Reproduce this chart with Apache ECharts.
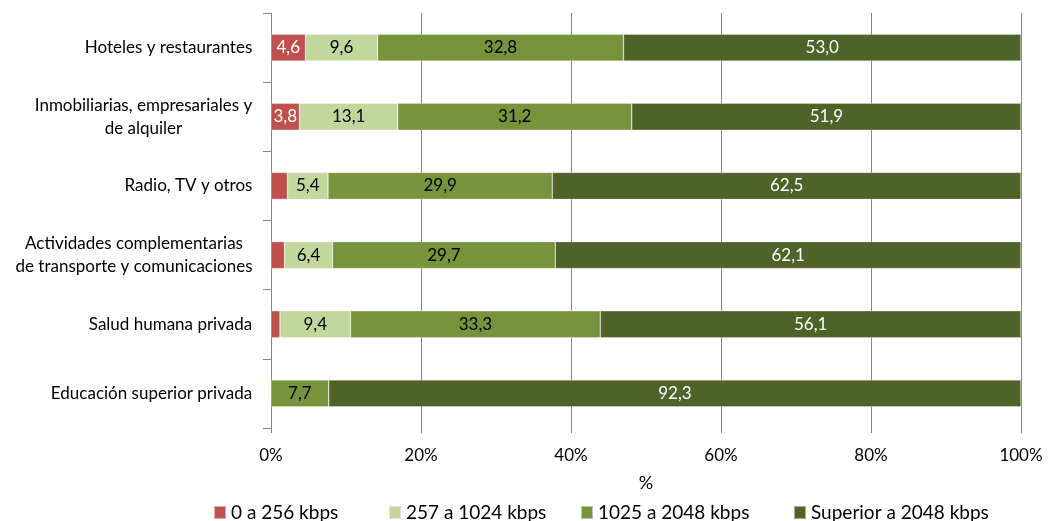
<!DOCTYPE html>
<html>
<head>
<meta charset="utf-8">
<script src="https://cdn.jsdelivr.net/npm/echarts@6/dist/echarts.min.js"></script>
<style>html,body{margin:0;padding:0;background:#fff;}#c{width:1050px;height:521px;}</style>
</head>
<body>
<div id="c"></div>
<script>
var categories = [
  'Hoteles y restaurantes',
  'Inmobiliarias, empresariales y\nde alquiler',
  'Radio, TV y otros',
  'Actividades complementarias\nde transporte y comunicaciones',
  'Salud humana privada',
  'Educación superior privada'
];
var seriesNames = ['0 a 256 kbps', '257 a 1024 kbps', '1025 a 2048 kbps', 'Superior a 2048 kbps'];
var s0 = [4.6, 3.8, 2.2, 1.8, 1.2, 0];
var s1 = [9.6, 13.1, 5.4, 6.4, 9.4, 0];
var s2 = [32.8, 31.2, 29.9, 29.7, 33.3, 7.7];
var s3 = [53.0, 51.9, 62.5, 62.1, 56.1, 92.3];
var xTicks = [0, 20, 40, 60, 80, 100];

var colors = ['#C0504D', '#C3D69B', '#77933C', '#4F6228'];
var labelColors = ['#ffffff', '#000000', '#000000', '#ffffff'];
var FONT = 'Lato, Carlito, Calibri, sans-serif';
var CAT_FS = 17;

// measure widest line per label to center lines
var ctx = document.createElement('canvas').getContext('2d');
ctx.font = CAT_FS + 'px ' + FONT;
var rich = {};
categories.forEach(function (c, i) {
  var w = 0;
  c.split('\n').forEach(function (l) { w = Math.max(w, ctx.measureText(l).width); });
  rich['c' + i] = { width: Math.ceil(w) + 1, align: 'center', fontSize: CAT_FS, fontFamily: FONT, color: '#000', lineHeight: 23 };
});

var chart = echarts.init(document.getElementById('c'));
var allData = [s0, s1, s2, s3];
var series = allData.map(function (d, k) {
  return {
    name: seriesNames[k],
    type: 'bar',
    stack: 'total',
    barWidth: 27,
    data: d.map(function (v) { return v === 0 ? null : v; }),
    itemStyle: { color: colors[k], borderColor: 'rgba(255,255,255,0.5)', borderWidth: 0.6 },
    label: {
      show: true,
      position: 'inside',
      color: labelColors[k],
      fontSize: 17,
      fontFamily: FONT,
      formatter: function (p) { return p.value < 3 ? '' : p.value.toFixed(1).replace('.', ','); }
    },
    emphasis: { disabled: true }
  };
});

var legendLefts = [213, 388, 580, 793];
var legends = seriesNames.map(function (n, k) {
  return {
    data: [n], left: legendLefts[k], top: 503, padding: 0, itemWidth: 12, itemHeight: 13, itemGap: 0,
    icon: 'rect', selectedMode: false,
    textStyle: { fontSize: 19, fontFamily: FONT, color: '#000' }
  };
});

chart.setOption({
  animation: false,
  backgroundColor: '#fff',
  grid: { left: 271, right: 29, top: 13, height: 415, containLabel: false },
  legend: legends,
  xAxis: {
    type: 'value', min: 0, max: 100, interval: 20,
    name: '%', nameLocation: 'middle', nameGap: 46,
    nameTextStyle: { fontSize: 18, fontFamily: FONT, color: '#000' },
    axisLine: { show: false },
    axisTick: { show: true, length: 5, lineStyle: { color: '#868686' } },
    splitLine: { show: true, lineStyle: { color: '#868686', width: 1 } },
    axisLabel: { fontSize: 17, fontFamily: FONT, color: '#000', margin: 19,
      formatter: function (v) { return xTicks.indexOf(v) >= 0 ? v + '%' : ''; } }
  },
  yAxis: {
    type: 'category', data: categories, inverse: true,
    axisLine: { show: true, lineStyle: { color: '#868686', width: 1 } },
    axisTick: { show: true, length: 8, lineStyle: { color: '#868686' } },
    axisLabel: {
      margin: 18,
      formatter: function (v, i) {
        return v.split('\n').map(function (l) { return '{c' + i + '|' + l + '}'; }).join('\n');
      },
      rich: rich
    }
  },
  series: series
});
</script>
</body>
</html>
